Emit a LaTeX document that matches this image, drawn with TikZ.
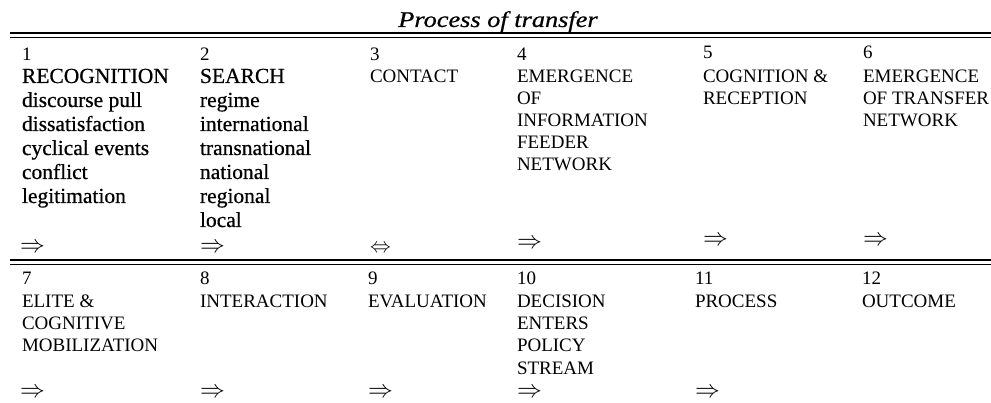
\documentclass[tikz,border=0pt]{standalone}
\usepackage{fontspec}
\setmainfont{Liberation Serif}
\newfontfamily\heavyserif[FakeBold=0.6]{Liberation Serif}
\begin{document}
\begin{tikzpicture}[x=1pt,y=-1pt,
  every node/.style={inner sep=0pt, outer sep=0pt},
  num/.style={anchor=base west, font=\fontsize{19}{21}\selectfont},
  big/.style={anchor=base west, font=\heavyserif\fontsize{21.5}{24}\selectfont},
  capt/.style={anchor=base west, font=\fontsize{19}{22}\selectfont},
  arr/.style={anchor=west, font=\fontsize{23}{25}\selectfont},
  rulebar/.style={line width=1.6pt}]
\useasboundingbox (0,0) rectangle (991,403);
\clip (0,0) rectangle (991,403);

% title
\node[anchor=base, font=\heavyserif\fontsize{22.5}{26}\selectfont\itshape] (title) at (498,27)
  {\scalebox{1.17}[1]{Process of transfer}};

% double rules
\draw[rulebar] (10,33) -- (991,33);
\draw[rulebar] (10,37.5) -- (991,37.5);
\draw[rulebar] (10,260) -- (991,260);
\draw[rulebar] (10,264.5) -- (991,264.5);

% ---------- row 1 ----------
\node[num] (n1) at (22,61) {1};
\node[num] (n2) at (200,61) {2};
\node[num] (n3) at (370,61) {3};
\node[num] (n4) at (517,61) {4};
\node[num] (n5) at (703,59) {5};
\node[num] (n6) at (863,59) {6};

\foreach \t [count=\i] in {RECOGNITION, discourse pull, dissatisfaction, cyclical events, conflict, legitimation}
  \node[big] (a\i) at (22,{83+24*(\i-1)}) {\t};
\foreach \t [count=\i] in {SEARCH, regime, international, transnational, national, regional, local}
  \node[big] (b\i) at (200,{83+24*(\i-1)}) {\t};
\node[capt] (c1) at (370,83) {CONTACT};
\foreach \t [count=\i] in {EMERGENCE, OF, INFORMATION, FEEDER, NETWORK}
  \node[capt] (d\i) at (517,{83+22*(\i-1)}) {\t};
\foreach \t [count=\i] in {COGNITION \&, RECEPTION}
  \node[capt] (e\i) at (703,{83+22*(\i-1)}) {\t};
\foreach \t [count=\i] in {EMERGENCE, OF TRANSFER, NETWORK}
  \node[capt] (f\i) at (863,{83+22*(\i-1)}) {\t};

\node[arr] (r1) at (20,248) {$\Rightarrow$};
\node[arr] (r2) at (200,248) {$\Rightarrow$};
\node[arr, font=\fontsize{20}{22}\selectfont] (r3) at (370,249) {$\Leftrightarrow$};
\node[arr] (r4) at (517,244) {$\Rightarrow$};
\node[arr] (r5) at (703,241) {$\Rightarrow$};
\node[arr] (r6) at (863,241) {$\Rightarrow$};

% ---------- row 2 ----------
\node[num] (n7) at (22,285) {7};
\node[num] (n8) at (200,285) {8};
\node[num] (n9) at (368,285) {9};
\node[num] (n10) at (517,285) {10};
\node[num] (n11) at (695,285) {11};
\node[num] (n12) at (862,285) {12};

\foreach \t [count=\i] in {ELITE \&, COGNITIVE, MOBILIZATION}
  \node[capt] (g\i) at (22,{308+22*(\i-1)}) {\t};
\node[capt] (h1) at (200,308) {INTERACTION};
\node[capt] (k1) at (368,308) {EVALUATION};
\foreach \t [count=\i] in {DECISION, ENTERS, POLICY, STREAM}
  \node[capt] (m\i) at (517,{308+22*(\i-1)}) {\t};
\node[capt] (p1) at (695,308) {PROCESS};
\node[capt] (q1) at (862,308) {OUTCOME};

\node[arr] (s7) at (20,393) {$\Rightarrow$};
\node[arr] (s8) at (200,393) {$\Rightarrow$};
\node[arr] (s9) at (368,393) {$\Rightarrow$};
\node[arr] (s10) at (517,393) {$\Rightarrow$};
\node[arr] (s11) at (695,393) {$\Rightarrow$};
\end{tikzpicture}
\end{document}
